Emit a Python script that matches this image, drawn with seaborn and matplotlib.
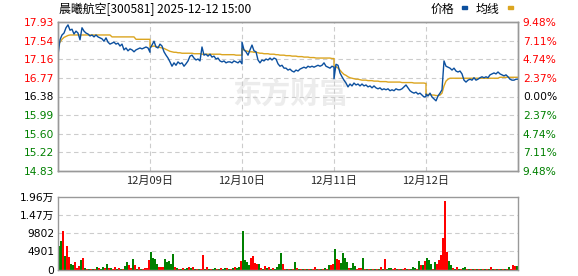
import numpy as np
import pandas as pd
import matplotlib
matplotlib.use("Agg")
import matplotlib.pyplot as plt
from matplotlib.patches import Rectangle
import seaborn as sns

sns.set_style("white")
plt.rcParams["font.family"] = ["DejaVu Sans", "Noto Sans CJK SC"]

# ---------------- data ----------------
title = "晨曦航空[300581] 2025-12-12 15:00"
day_labels = ["12月09日", "12月10日", "12月11日", "12月12日"]
pre_close = 16.38
price_ticks = [14.83, 15.22, 15.60, 15.99, 16.38, 16.77, 17.16, 17.54, 17.93]
pct_labels = ["9.48%", "7.11%", "4.74%", "2.37%", "0.00%", "2.37%", "4.74%", "7.11%", "9.48%"]
vol_ticks = [0, 4901, 9802, 14703, 19604]
vol_labels = ["0", "4901", "9802", "1.47万", "1.96万"]

price_d1 = [17.24, 17.56, 17.66, 17.70, 17.81, 17.87, 17.76, 17.78, 17.68, 17.74,
            17.70, 17.56, 17.81, 17.74, 17.70, 17.68, 17.64, 17.66, 17.62, 17.66,
            17.62, 17.60, 17.58, 17.53, 17.60, 17.51, 17.47, 17.49, 17.51, 17.47,
            17.49, 17.43, 17.47, 17.35, 17.39, 17.33, 17.37, 17.35, 17.31, 17.35,
            17.37, 17.39, 17.37, 17.39, 17.41, 17.39, 17.30]
price_d2 = [17.38, 17.45, 17.53, 17.41, 17.39, 17.47, 17.43, 17.31, 17.24, 17.18,
            17.10, 17.01, 17.08, 17.03, 17.10, 17.06, 17.08, 17.01, 17.06, 17.12,
            17.22, 17.24, 17.18, 17.14, 17.16, 17.12, 17.41, 17.24, 17.26, 17.22,
            17.26, 17.20, 17.22, 17.16, 17.18, 17.12, 17.10, 17.12, 17.08, 17.10,
            17.10, 17.08, 17.12, 17.10, 17.08, 17.12, 17.06]
price_d3 = [17.51, 17.35, 17.31, 17.24, 17.35, 17.45, 17.33, 17.31, 17.14, 17.08,
            17.14, 17.12, 17.16, 17.14, 17.18, 17.14, 17.18, 17.16, 17.06, 17.01,
            17.03, 16.97, 16.97, 16.93, 16.95, 16.91, 16.89, 16.93, 16.91, 16.95,
            16.97, 16.99, 16.97, 17.01, 16.99, 17.01, 16.99, 17.01, 17.03, 17.01,
            17.03, 17.08, 17.01, 16.99, 16.97, 17.01, 16.99]
price_d4 = [16.75, 17.05, 17.03, 16.87, 16.79, 16.72, 16.66, 16.58, 16.64, 16.60,
            16.66, 16.62, 16.64, 16.60, 16.64, 16.60, 16.62, 16.58, 16.60, 16.56,
            16.60, 16.56, 16.54, 16.56, 16.52, 16.54, 16.52, 16.54, 16.50, 16.52,
            16.50, 16.54, 16.52, 16.52, 16.54, 16.58, 16.62, 16.56, 16.50, 16.47,
            16.45, 16.47, 16.43, 16.45, 16.41, 16.37, 16.38]
price_d5 = [16.43, 16.39, 16.45, 16.37, 16.33, 16.29, 16.39, 16.45, 16.52, 17.12,
            17.01, 16.99, 16.97, 16.93, 16.97, 16.91, 16.89, 16.91, 16.85, 16.72,
            16.68, 16.72, 16.74, 16.72, 16.77, 16.72, 16.74, 16.77, 16.79, 16.77,
            16.79, 16.77, 16.83, 16.85, 16.87, 16.85, 16.89, 16.85, 16.83, 16.81,
            16.83, 16.79, 16.74, 16.72, 16.72, 16.74, 16.74]

avg_d1 = [17.45, 17.51, 17.57, 17.61, 17.63, 17.65, 17.66, 17.66, 17.66, 17.66,
          17.66, 17.66, 17.66, 17.66, 17.66, 17.66, 17.66, 17.66, 17.66, 17.66,
          17.66, 17.66, 17.66, 17.66, 17.66, 17.66, 17.66, 17.62, 17.62, 17.62,
          17.62, 17.62, 17.62, 17.62, 17.62, 17.62, 17.62, 17.62, 17.62, 17.57,
          17.57, 17.57, 17.57, 17.57, 17.57, 17.57, 17.57]
avg_d2 = [17.41, 17.42, 17.43, 17.42, 17.41, 17.40, 17.39, 17.38, 17.36, 17.34,
          17.32, 17.31, 17.30, 17.30, 17.29, 17.29, 17.28, 17.28, 17.28, 17.28,
          17.28, 17.28, 17.27, 17.27, 17.27, 17.27, 17.26, 17.26, 17.26, 17.26,
          17.26, 17.26, 17.26, 17.26, 17.26, 17.26, 17.25, 17.25, 17.25, 17.25,
          17.25, 17.25, 17.25, 17.24, 17.24, 17.24, 17.24]
avg_d3 = [17.38, 17.35, 17.33, 17.32, 17.31, 17.31, 17.30, 17.30, 17.29, 17.28,
          17.28, 17.27, 17.27, 17.27, 17.26, 17.26, 17.26, 17.25, 17.25, 17.24,
          17.24, 17.24, 17.23, 17.23, 17.23, 17.22, 17.22, 17.22, 17.21, 17.21,
          17.21, 17.20, 17.20, 17.20, 17.19, 17.19, 17.19, 17.18, 17.18, 17.18,
          17.18, 17.18, 17.18, 17.18, 17.18, 17.17, 17.17]
avg_d4 = [17.02, 17.00, 16.97, 16.93, 16.88, 16.84, 16.82, 16.79, 16.77, 16.76,
          16.75, 16.74, 16.74, 16.73, 16.72, 16.72, 16.72, 16.71, 16.71, 16.71,
          16.70, 16.70, 16.70, 16.69, 16.69, 16.69, 16.69, 16.68, 16.68, 16.68,
          16.68, 16.68, 16.68, 16.68, 16.67, 16.67, 16.67, 16.67, 16.67, 16.67,
          16.66, 16.66, 16.66, 16.66, 16.66, 16.66, 16.65]
avg_d5 = [16.43, 16.42, 16.42, 16.41, 16.41, 16.40, 16.40, 16.41, 16.45, 16.60,
          16.70, 16.74, 16.76, 16.76, 16.76, 16.76, 16.76, 16.76, 16.76, 16.76,
          16.76, 16.76, 16.76, 16.76, 16.76, 16.76, 16.76, 16.76, 16.76, 16.76,
          16.76, 16.76, 16.76, 16.76, 16.76, 16.76, 16.76, 16.78, 16.78, 16.78,
          16.78, 16.78, 16.78, 16.78, 16.78, 16.78, 16.78]

vol_d1 = [6300, 7600, 10300, 3600, 6300, 3400, 1400, 1200, 1900, 500,
          900, 2450, 3000, 300, 200, 200, 200, 200, 200, 600,
          300, 200, 800, 300, 1400, 300, 500, 200, 800, 200,
          300, 200, 200, 900, 1900, 1200, 300, 2700, 1200, 200,
          700, 200, 200, 300, 500, 2450]
dir_d1 = "GGRGRRGGRRRGRGRGRGRGRGGRGRGRRGRGRGGRRGRGRGRRRR"
vol_d2 = [4600, 3000, 2700, 1450, 800, 800, 800, 2700, 1900, 2200,
          1600, 4100, 550, 300, 200, 200, 300, 200, 300, 550,
          300, 550, 200, 200, 200, 200, 3900, 200, 550, 200,
          200, 200, 300, 200, 200, 300, 200, 300, 300, 200,
          200, 300, 550, 450, 650, 2350]
dir_d2 = "GGGGRRRGGGGGRGRGRGGRGRGRGRRGRGRGGRGRGGRGRGRGGR"
vol_d3 = [10250, 2550, 2000, 1100, 3000, 3700, 1700, 1450, 1450, 300,
          200, 900, 350, 650, 200, 350, 200, 650, 1450, 4400,
          1600, 200, 200, 200, 200, 200, 2000, 300, 200, 200,
          200, 200, 200, 200, 200, 200, 650, 200, 200, 200,
          200, 350, 200, 1200, 1200, 1450]
dir_d3 = "GGGGRRRRGRGRGRGRGGGGRRGRGRGRGRGRGRGRRGRGRGRGRR"
vol_d4 = [5500, 2800, 2550, 1700, 4400, 3100, 2000, 350, 350, 1700,
          900, 200, 350, 350, 3100, 200, 200, 200, 200, 200,
          200, 200, 200, 650, 200, 2800, 200, 350, 350, 200,
          350, 200, 200, 200, 200, 350, 200, 200, 200, 650,
          350, 200, 2250, 1200, 1200, 2250]
dir_d4 = "GRRGGGGRGGGRRRGRGRGRGRGRGRGGGRRGRGRRGRGGGRGRGR"
vol_d5 = [3100, 2550, 1450, 200, 2000, 1450, 2550, 3900, 8500, 18300,
          4800, 2250, 1200, 350, 200, 650, 200, 200, 350, 650,
          200, 200, 200, 200, 200, 200, 200, 200, 200, 200,
          200, 200, 650, 200, 200, 200, 200, 200, 200, 200,
          200, 650, 200, 1200, 900, 900]
dir_d5 = "GGGRGRRRRRRGGRGRGRGGRGRGRGRGRGRGRGRGRGRGRGRRRG"

# ---------------- build tables ----------------
prices = [price_d1, price_d2, price_d3, price_d4, price_d5]
avgs = [avg_d1, avg_d2, avg_d3, avg_d4, avg_d5]
vols = [vol_d1, vol_d2, vol_d3, vol_d4, vol_d5]
dirs = [dir_d1, dir_d2, dir_d3, dir_d4, dir_d5]

rows = []
for d, (p, a) in enumerate(zip(prices, avgs)):
    n = len(p) - 1
    for i, (pv, av) in enumerate(zip(p, a)):
        rows.append({"minute": d * 240 + i * 240 / n, "price": pv, "avg": av})
line_df = pd.DataFrame(rows)

vrows = []
for d, (v, s) in enumerate(zip(vols, dirs)):
    n = len(v)
    for i, (vv, c) in enumerate(zip(v, s)):
        vrows.append({"minute": d * 240 + (i + 0.5) * 240 / n, "volume": vv, "dir": c})
vol_df = pd.DataFrame(vrows)

# ---------------- figure ----------------
W, H = 578, 276
fig = plt.figure(figsize=(W / 100, H / 100), dpi=100)
fig.patch.set_facecolor("white")

def ax_rect(left, top, right, bottom):
    return [left / W, 1 - bottom / H, (right - left) / W, (bottom - top) / H]

ax1 = fig.add_axes(ax_rect(58, 22, 518, 171))
ax2 = fig.add_axes(ax_rect(58, 196.5, 518, 269.5))

RED = "#ff0000"
GREEN = "#008000"
FRAME = "#999999"
GRID = "#cccccc"
BLUE = "#0b4f9e"
GOLD = "#dba520"
tick_fs = 7.7

# watermark
ax1.text(0.505, 0.52, "东方财富", transform=ax1.transAxes, ha="center", va="center",
         fontsize=21, fontweight="bold", color="#ececec", family=["Noto Sans CJK SC"],
         zorder=0.5)

# grid
for t in price_ticks[1:-1]:
    ax1.axhline(t, color=GRID, lw=0.8, dashes=(4, 3), zorder=1)
for xb in [240, 480, 720, 960]:
    ax1.axvline(xb, color=GRID, lw=0.8, dashes=(4, 3), zorder=1)
for t in vol_ticks[1:-1]:
    ax2.axhline(t, color=GRID, lw=0.8, dashes=(4, 3), zorder=0.5)

sns.lineplot(data=line_df, x="minute", y="avg", ax=ax1, color=GOLD, lw=1.0,
             estimator=None, sort=False, zorder=2)
sns.lineplot(data=line_df, x="minute", y="price", ax=ax1, color=BLUE, lw=1.0,
             estimator=None, sort=False, zorder=3)

sns.barplot(data=vol_df, x="minute", y="volume", hue="dir",
            palette={"R": RED, "G": GREEN}, native_scale=True, width=0.9,
            dodge=False, legend=False, ax=ax2, saturation=1, errorbar=None,
            linewidth=0, zorder=2)

# axes styling
ax1.set_xlim(0, 1200)
ax1.set_ylim(price_ticks[0], price_ticks[-1])
ax2.set_xlim(0, 1200)
ax2.set_ylim(0, vol_ticks[-1])
for ax in (ax1, ax2):
    ax.set_xlabel("")
    ax.set_ylabel("")
    for sp in ax.spines.values():
        sp.set_color(FRAME)
        sp.set_linewidth(1.0)
        sp.set_visible(True)

ax1.set_yticks(price_ticks, [f"{t:.2f}" for t in price_ticks])
ax1.tick_params(axis="y", length=0, pad=2.5, labelsize=tick_fs)
for lab, t in zip(ax1.get_yticklabels(), price_ticks):
    lab.set_color(RED if t > pre_close + 1e-6 else (GREEN if t < pre_close - 1e-6 else "black"))

ax1.set_xticks([240, 480, 720, 960], day_labels)
ax1.tick_params(axis="x", length=0, pad=3.5, labelsize=8)
for lab in ax1.get_xticklabels():
    lab.set_family(["Noto Sans CJK SC"])

axr = ax1.twinx()
axr.set_ylim(price_ticks[0], price_ticks[-1])
axr.set_yticks(price_ticks, pct_labels)
axr.tick_params(axis="y", length=0, pad=3.5, labelsize=tick_fs)
for lab, t in zip(axr.get_yticklabels(), price_ticks):
    lab.set_color(RED if t > pre_close + 1e-6 else (GREEN if t < pre_close - 1e-6 else "black"))
for sp in axr.spines.values():
    sp.set_color(FRAME)
    sp.set_linewidth(1.0)

ax2.set_xticks([])
ax2.set_yticks(vol_ticks, vol_labels)
ax2.tick_params(axis="y", length=0, pad=2.5, labelsize=tick_fs, labelcolor="black")

# header and legend
fig.text(59 / W, 1 - 9 / H, title, ha="left", va="center", fontsize=8.6,
         family=["Noto Sans CJK SC"], color="black")
fig.text(431 / W, 1 - 9 / H, "价格", ha="left", va="center", fontsize=8.6,
         family=["Noto Sans CJK SC"], color="black")
fig.text(476 / W, 1 - 9 / H, "均线", ha="left", va="center", fontsize=8.6,
         family=["Noto Sans CJK SC"], color="black")
fig.patches.append(Rectangle((462 / W, 1 - 9 / H), 4.5 / W, 3 / H,
                             transform=fig.transFigure, color=BLUE, figure=fig))
fig.patches.append(Rectangle((508 / W, 1 - 9 / H), 4.5 / W, 3 / H,
                             transform=fig.transFigure, color=GOLD, figure=fig))

fig.savefig("out.png", dpi=100, facecolor="white")
